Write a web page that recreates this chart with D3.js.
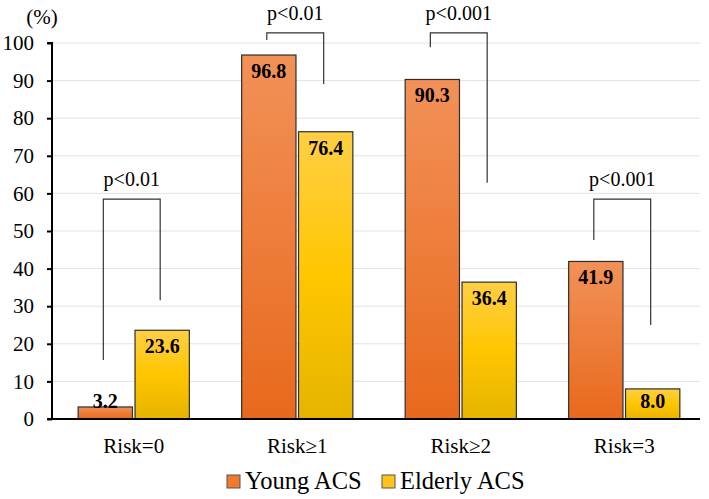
<!DOCTYPE html>
<html><head><meta charset="utf-8">
<script src="https://cdn.jsdelivr.net/npm/d3@7"></script>
<style>
body{margin:0;background:#fff}
svg{display:block}
svg text{font-family:"Liberation Serif",serif}
</style>
</head><body>
<svg id="c" width="709" height="499" font-family="Liberation Serif"></svg>
<script>
const categories = ["Risk=0", "Risk\u22651", "Risk\u22652", "Risk=3"];
const seriesNames = ["Young ACS", "Elderly ACS"];
const young = [3.2, 96.8, 90.3, 41.9];
const elderly = [23.6, 76.4, 36.4, 8.0];
const yTicks = [0, 10, 20, 30, 40, 50, 60, 70, 80, 90, 100];
const pLabels = ["p<0.01", "p<0.01", "p<0.001", "p<0.001"];
// bracket: top value, left-leg bottom value, right-leg bottom value
const bracketTop = [58.5, 102.7, 102.7, 58.5];
const bracketLeft = [15.7, 100.8, 98.9, 47.6];
const bracketRight = [31.6, 89.1, 62.8, 25.0];

const svg = d3.select("#c");
const x0 = 52, x1 = 706, yb = 419, yt = 43;
const x = d3.scaleBand().domain(categories).range([x0, x1]).paddingInner(0).paddingOuter(0);
const xs = d3.scaleBand().domain(seriesNames).range([0, x.bandwidth()]).paddingInner(0.045).paddingOuter(0.46);
const y = d3.scaleLinear().domain([0, 100]).range([yb, yt]);

const defs = svg.append("defs");
const g1 = defs.append("linearGradient").attr("id", "gy").attr("x1", 0).attr("y1", 0).attr("x2", 0).attr("y2", 1);
g1.append("stop").attr("offset", "0%").attr("stop-color", "#F29158");
g1.append("stop").attr("offset", "100%").attr("stop-color", "#E8691C");
const g2 = defs.append("linearGradient").attr("id", "ge").attr("x1", 0).attr("y1", 0).attr("x2", 0).attr("y2", 1);
g2.append("stop").attr("offset", "0%").attr("stop-color", "#FFCF45");
g2.append("stop").attr("offset", "50%").attr("stop-color", "#FFC600");
g2.append("stop").attr("offset", "100%").attr("stop-color", "#E6B400");
const fills = ["url(#gy)", "url(#ge)"];
const legendFills = ["#F07A30", "#FFC41A"];

// gridlines
svg.append("g").selectAll("line").data(yTicks.filter(d => d > 0)).join("line")
  .attr("x1", x0).attr("x2", 700).attr("y1", d => y(d)).attr("y2", d => y(d))
  .attr("stroke", "#e2e2e2").attr("stroke-width", 1);

// y axis
const ya = svg.append("g").attr("transform", `translate(${x0},0)`)
  .call(d3.axisLeft(y).tickValues(yTicks).tickSize(5).tickPadding(13));
ya.attr("font-family", "Liberation Serif").attr("font-size", 21);
ya.select(".domain").attr("stroke", "#000").attr("stroke-width", 2).attr("d", `M-5,${y(100)}H0V${yb}`);
ya.selectAll(".tick line").attr("stroke", "#000").attr("stroke-width", 2);
ya.selectAll(".tick text").attr("fill", "#000");

svg.append("text").attr("x", 42).attr("y", 24).attr("text-anchor", "middle")
  .attr("font-size", 21).text("(%)");

// bars
const data = categories.map((c, i) => ({c, vals: [young[i], elderly[i]]}));
const grp = svg.append("g").selectAll("g").data(data).join("g")
  .attr("transform", d => `translate(${x(d.c)},0)`);
grp.selectAll("rect").data(d => d.vals.map((v, k) => ({v, k}))).join("rect")
  .attr("x", d => xs(seriesNames[d.k])).attr("width", xs.bandwidth())
  .attr("y", d => y(d.v)).attr("height", d => yb - y(d.v))
  .attr("fill", d => fills[d.k]).attr("stroke", "#2e2e2e").attr("stroke-width", 1.2);
grp.selectAll("text.v").data(d => d.vals.map((v, k) => ({v, k}))).join("text")
  .attr("class", "v")
  .attr("x", d => xs(seriesNames[d.k]) + xs.bandwidth() / 2)
  .attr("y", d => Math.min(y(d.v) + 23, 408))
  .attr("text-anchor", "middle").attr("font-weight", "bold")
  .attr("font-size", 20).text(d => d.v.toFixed(1));

// x axis baseline
svg.append("line").attr("x1", x0 - 5).attr("x2", 700).attr("y1", yb).attr("y2", yb)
  .attr("stroke", "#000").attr("stroke-width", 2);
svg.append("g").selectAll("text").data(categories).join("text")
  .attr("x", d => x(d) + x.bandwidth() / 2).attr("y", 453)
  .attr("text-anchor", "middle").attr("font-size", 21).text(d => d);

// brackets
categories.forEach((c, i) => {
  const lx = x(c) + xs(seriesNames[0]) + xs.bandwidth() / 2 - 2;
  const rx = x(c) + xs(seriesNames[1]) + xs.bandwidth() / 2 - 2;
  svg.append("path")
    .attr("d", `M${lx},${y(bracketLeft[i])}V${y(bracketTop[i])}H${rx}V${y(bracketRight[i])}`)
    .attr("fill", "none").attr("stroke", "#333").attr("stroke-width", 1.2);
  svg.append("text").attr("x", (lx + rx) / 2).attr("y", y(bracketTop[i]) - 13)
    .attr("text-anchor", "middle").attr("font-size", 20).text(pLabels[i]);
});

// legend
const leg = svg.append("g");
const lxs = [227, 382];
seriesNames.forEach((s, k) => {
  leg.append("rect").attr("x", lxs[k]).attr("y", 475).attr("width", 13).attr("height", 13)
    .attr("fill", legendFills[k]).attr("stroke", "#555").attr("stroke-width", 1);
  leg.append("text").attr("x", lxs[k] + 18).attr("y", 489)
    .attr("font-size", 24.5).text(s);
});
</script>
</body></html>
